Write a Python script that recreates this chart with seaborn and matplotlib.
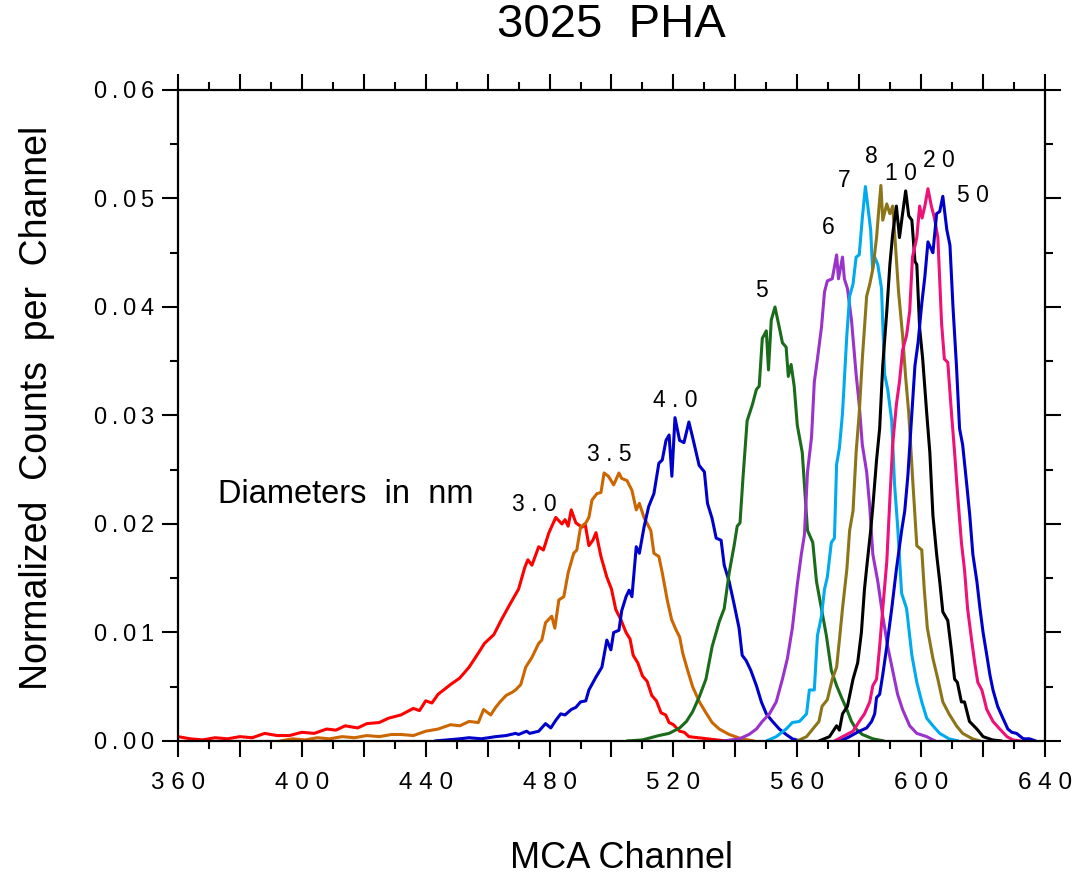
import matplotlib
matplotlib.use("Agg")
import matplotlib.pyplot as plt
from matplotlib.ticker import MultipleLocator, FuncFormatter
import pandas as pd
import seaborn as sns

# Pulse-height spectra for particle diameters (nm)
DIAMETERS = ["3.0", "3.5", "4.0", "5", "6", "7", "8", "10", "20", "50"]

ch_30 = [360, 364, 368, 372, 376, 380, 384, 388, 392, 396, 400, 404, 408, 411, 414, 418,
         421, 425, 428, 432, 436, 438, 440, 442, 444, 448, 451, 454, 457, 459, 462, 464.5,
         467, 470, 472, 473, 474.3, 476.5, 478, 479.8, 482, 484, 485, 486, 487, 488.5,
         490.5, 491.5, 492.7, 494, 495, 496.6, 498.5, 500, 501.4, 503, 504.7, 506, 507,
         508.5, 510, 511.5, 513, 514.5, 516, 517.5, 518.6, 520, 522, 523.5, 525, 528, 531,
         534, 537]
y_30 = [0.0004, 0.0002, 0.0001, 0.0003, 0.0002, 0.0004, 0.0003, 0.0007, 0.0005, 0.0005,
        0.0008, 0.0007, 0.0011, 0.0010, 0.0014, 0.0012, 0.0016, 0.0017, 0.0021, 0.0024,
        0.0030, 0.0028, 0.0037, 0.0035, 0.0043, 0.0052, 0.0058, 0.0068, 0.0081, 0.0090,
        0.0098, 0.0112, 0.0125, 0.0140, 0.0160, 0.0167, 0.0162, 0.0179, 0.0176, 0.0192,
        0.0206, 0.0200, 0.0204, 0.0198, 0.0213, 0.0201, 0.0197, 0.0200, 0.0180, 0.0185,
        0.0192, 0.0170, 0.0151, 0.0140, 0.0121, 0.0112, 0.0100, 0.0094, 0.0079, 0.0072,
        0.0060, 0.0055, 0.0042, 0.0037, 0.0026, 0.0024, 0.0017, 0.0015, 0.0009, 0.0008,
        0.0004, 0.0003, 0.0002, 0.0001, 0.0]

ch_35 = [393, 397, 401, 405, 409, 413, 417, 421, 425, 429, 432, 436, 440, 444, 448, 451,
         454, 457, 458.7, 461, 462.6, 464, 466, 468, 469, 470.7, 472.3, 474.3, 476.5, 477.5,
         478.7, 480.7, 481.7, 483, 484.6, 486, 487.8, 488.8, 490, 491.7, 492.7, 493.7,
         495.3, 496.6, 497.6, 499, 500.7, 502.4, 503.3, 505, 506.6, 508, 509, 510.5, 512.7,
         513.7, 515.3, 516.4, 518, 519.4, 520.9, 522, 523, 524.6, 526.2, 528.4, 530.5,
         532.5, 534.8, 538, 542, 546]
y_35 = [0.0, 0.0002, 0.0001, 0.0003, 0.0002, 0.0004, 0.0003, 0.0005, 0.0004, 0.0006,
        0.0006, 0.0005, 0.0009, 0.0011, 0.0015, 0.0014, 0.0018, 0.0017, 0.0029, 0.0024,
        0.0031, 0.0036, 0.0042, 0.0045, 0.0047, 0.0052, 0.0068, 0.0077, 0.0090, 0.0093,
        0.0109, 0.0115, 0.0104, 0.0130, 0.0133, 0.0155, 0.0173, 0.0176, 0.0197, 0.0201,
        0.0206, 0.0222, 0.0228, 0.0229, 0.0247, 0.0244, 0.0236, 0.0247, 0.0242, 0.0240,
        0.0231, 0.0213, 0.0219, 0.0206, 0.0194, 0.0173, 0.0170, 0.0155, 0.0130, 0.0112,
        0.0102, 0.0096, 0.0081, 0.0065, 0.0050, 0.0036, 0.0026, 0.0017, 0.0011, 0.0006,
        0.0002, 0.0]

ch_40 = [443, 447, 451, 454, 458, 462.6, 466, 469, 470, 472.6, 473.6, 476.5, 478.7, 480.4,
         482, 483.6, 485, 487, 488.5, 490, 491.7, 492.7, 495, 496.9, 498.5, 499.8, 500.7,
         502.4, 503.3, 504.7, 505.7, 506.6, 508, 509, 510.5, 512, 513.7, 515.3, 516.4,
         517.6, 518.6, 519.5, 520.5, 522, 523.4, 525, 526.6, 528.3, 530, 531, 532.5, 533.8,
         535.4, 536.4, 538, 539.6, 541.2, 542.2, 543.5, 545, 546.8, 548.4, 550, 552, 554.2,
         556.4, 558.4, 561]
y_40 = [0.0, 0.0001, 0.0002, 0.0003, 0.0002, 0.0004, 0.0005, 0.0007, 0.0006, 0.0009,
        0.0007, 0.0009, 0.0016, 0.0012, 0.0019, 0.0025, 0.0024, 0.0029, 0.0031, 0.0036,
        0.0037, 0.0047, 0.0059, 0.0068, 0.0093, 0.0084, 0.0100, 0.0102, 0.0120, 0.0133,
        0.0139, 0.0133, 0.0179, 0.0173, 0.0197, 0.0216, 0.0228, 0.0256, 0.0259, 0.0277,
        0.0282, 0.0244, 0.0298, 0.0277, 0.0275, 0.0294, 0.0275, 0.0254, 0.0248, 0.0219,
        0.0205, 0.0187, 0.0185, 0.0162, 0.0147, 0.0126, 0.0104, 0.0079, 0.0074, 0.0065,
        0.0051, 0.0036, 0.0025, 0.0018, 0.0011, 0.0006, 0.0002, 0.0]

ch_5 = [505, 510, 515.3, 518.6, 522, 524.2, 526.2, 528.4, 530.5, 532.5, 534.8, 536.4, 538,
        539.6, 540.6, 541.5, 542.5, 543.8, 545.5, 546.8, 547.7, 548.7, 550, 550.7, 551.6,
        552.8, 554.2, 555.2, 556.4, 557.1, 558, 559, 560, 561.6, 563.3, 565, 566.2, 567.8,
        569.4, 571, 572.7, 574.3, 576, 577.5, 579, 581, 584.4, 588]
y_5 = [0.0, 0.0001, 0.0005, 0.0007, 0.0012, 0.0018, 0.0027, 0.0041, 0.0057, 0.0087, 0.0110,
       0.0122, 0.0155, 0.0180, 0.0198, 0.0201, 0.0244, 0.0295, 0.0310, 0.0324, 0.0327,
       0.0371, 0.0378, 0.0342, 0.0388, 0.0400, 0.0381, 0.0367, 0.0363, 0.0336, 0.0347,
       0.0327, 0.0291, 0.0266, 0.0194, 0.0183, 0.0147, 0.0122, 0.0097, 0.0065, 0.0051,
       0.0040, 0.0029, 0.0018, 0.0011, 0.0006, 0.0002, 0.0]

ch_6 = [536, 541.3, 544.4, 546.8, 548.7, 551, 553.2, 555.2, 556.8, 558.4, 560, 561.3, 562.3,
        563.3, 564.6, 565.5, 566.5, 567.8, 568.8, 569.7, 571.3, 572.7, 573.3, 574.6, 575.2,
        576.2, 577.5, 579, 580, 581, 582.4, 583.4, 584.4, 586, 587.6, 589.2, 590.8, 592.4,
        594, 596.3, 598.6, 601.8, 604.5]
y_6 = [0.0, 0.0002, 0.0006, 0.0011, 0.0018, 0.0025, 0.0036, 0.0057, 0.0076, 0.0104, 0.0144,
       0.0172, 0.0190, 0.0248, 0.0280, 0.0331, 0.0352, 0.0381, 0.0414, 0.0424, 0.0426,
       0.0448, 0.0426, 0.0446, 0.0426, 0.0417, 0.0388, 0.0338, 0.0310, 0.0273, 0.0248,
       0.0216, 0.0172, 0.0147, 0.0115, 0.0087, 0.0065, 0.0043, 0.0029, 0.0014, 0.0007,
       0.0004, 0.0]

ch_7 = [550, 553.2, 556.4, 558.4, 560.7, 563, 563.9, 565.5, 566.5, 567.8, 568.8, 569.7, 571,
        572, 572.7, 573.6, 574.6, 576, 576.9, 578, 579, 580, 581, 582, 582.6, 583.7, 584.3,
        585, 586, 587.2, 588.2, 589.2, 590.5, 591.4, 592.4, 593.7, 595.3, 597, 598.6, 600.2,
        601.8, 603.8, 606, 609, 612]
y_7 = [0.0, 0.0004, 0.0011, 0.0017, 0.0018, 0.0025, 0.0047, 0.0047, 0.0097, 0.0115, 0.0140,
       0.0151, 0.0183, 0.0187, 0.0255, 0.0270, 0.0302, 0.0374, 0.0410, 0.0421, 0.0446,
       0.0448, 0.0482, 0.0511, 0.0497, 0.0471, 0.0435, 0.0446, 0.0439, 0.0417, 0.0338,
       0.0324, 0.0295, 0.0237, 0.0198, 0.0136, 0.0122, 0.0079, 0.0054, 0.0036, 0.0021,
       0.0014, 0.0007, 0.0002, 0.0]

ch_8 = [560, 563, 565, 567, 568, 569.7, 571.3, 572.7, 573.6, 574.6, 576, 576.9, 578, 579,
        580, 581, 582.4, 583.4, 584.4, 585.6, 586.3, 587, 587.6, 588.9, 589.9, 590.8, 591.7,
        592.7, 594, 595, 596, 597.2, 598.6, 600.2, 601, 602, 603.8, 605.4, 607, 609, 611.4,
        613.4, 616.6, 619]
y_8 = [0.0, 0.0004, 0.0011, 0.0018, 0.0032, 0.0038, 0.0057, 0.0068, 0.0093, 0.0122, 0.0158,
       0.0194, 0.0212, 0.0266, 0.0302, 0.0352, 0.0410, 0.0421, 0.0435, 0.0464, 0.0489,
       0.0512, 0.0480, 0.0495, 0.0486, 0.0493, 0.0457, 0.0414, 0.0374, 0.0335, 0.0302,
       0.0244, 0.0180, 0.0176, 0.0140, 0.0104, 0.0076, 0.0057, 0.0036, 0.0025, 0.0014,
       0.0007, 0.0002, 0.0]

ch_10 = [567, 570.4, 572.7, 573.6, 574.6, 576.2, 578, 579.5, 580.7, 581.7, 582.6, 583.7,
         584.4, 585.6, 586.6, 587.6, 588.9, 589.9, 590.8, 592, 593, 594, 595, 596, 597, 598,
         598.6, 599.5, 600.5, 601.8, 602.8, 603.8, 605, 606, 607, 608.6, 609.8, 610.8, 611.7,
         613, 614, 615.6, 618, 620, 623, 626]
y_10 = [0.0, 0.0004, 0.0014, 0.0010, 0.0025, 0.0032, 0.0057, 0.0072, 0.0100, 0.0140, 0.0165,
        0.0194, 0.0216, 0.0259, 0.0288, 0.0346, 0.0396, 0.0439, 0.0467, 0.0493, 0.0464,
        0.0486, 0.0507, 0.0484, 0.0480, 0.0442, 0.0439, 0.0381, 0.0352, 0.0302, 0.0266,
        0.0208, 0.0172, 0.0147, 0.0119, 0.0111, 0.0083, 0.0057, 0.0054, 0.0036, 0.0036,
        0.0018, 0.0011, 0.0004, 0.0001, 0.0]

ch_20 = [572, 576, 578, 580, 581.7, 583.4, 584.4, 585.6, 586.6, 587.6, 588.9, 589.9, 590.8,
         592, 593, 594, 595.3, 596.3, 597.2, 598.6, 599.5, 600.3, 601.2, 602.2, 603.3, 604.3,
         605.4, 606.6, 607.5, 608.6, 609.8, 610.8, 611.7, 613, 614, 615, 616.3, 617.3, 618.3,
         619.6, 621.2, 623.2, 625.4, 627.7, 629.6, 632]
y_20 = [0.0, 0.0006, 0.0009, 0.0018, 0.0025, 0.0036, 0.0051, 0.0057, 0.0087, 0.0122, 0.0165,
        0.0223, 0.0273, 0.0310, 0.0331, 0.0360, 0.0374, 0.0396, 0.0446, 0.0464, 0.0493,
        0.0482, 0.0493, 0.0509, 0.0493, 0.0482, 0.0464, 0.0385, 0.0352, 0.0349, 0.0302,
        0.0266, 0.0230, 0.0183, 0.0158, 0.0122, 0.0093, 0.0072, 0.0054, 0.0047, 0.0029,
        0.0018, 0.0011, 0.0004, 0.0001, 0.0]

ch_50 = [574, 576.9, 580, 582.4, 584, 585, 585.6, 586.6, 587.6, 588.9, 590.5, 592, 593.7,
         594.7, 595.7, 597, 598, 599, 600.2, 601.2, 602.2, 603.3, 603.8, 605, 606, 607, 608.3,
         609.3, 610.3, 611.4, 612.4, 613.4, 614.7, 615.7, 616.7, 618, 619, 620, 621.2, 622.2,
         623.2, 624.7, 626.4, 628, 629.3, 630.8, 633, 635, 637]
y_50 = [0.0, 0.0004, 0.0009, 0.0012, 0.0018, 0.0025, 0.0040, 0.0043, 0.0061, 0.0087, 0.0122,
        0.0158, 0.0194, 0.0212, 0.0244, 0.0302, 0.0346, 0.0367, 0.0403, 0.0428, 0.0460,
        0.0453, 0.0450, 0.0486, 0.0488, 0.0502, 0.0471, 0.0457, 0.0399, 0.0346, 0.0288,
        0.0273, 0.0237, 0.0208, 0.0172, 0.0147, 0.0122, 0.0100, 0.0079, 0.0061, 0.0047,
        0.0032, 0.0021, 0.0011, 0.0008, 0.0007, 0.0002, 0.0002, 0.0]

CHANNELS = [ch_30, ch_35, ch_40, ch_5, ch_6, ch_7, ch_8, ch_10, ch_20, ch_50]
COUNTS = [y_30, y_35, y_40, y_5, y_6, y_7, y_8, y_10, y_20, y_50]

COLORS = ["#ff0000", "#cc6600", "#0000cc", "#1a6b1a", "#9933cc",
          "#00aaee", "#8c7418", "#000000", "#ee1177", "#0000cc"]

# curve labels as printed on the chart, with their anchor points
PEAK_LABELS = ["3 . 0", "3 . 5", "4 . 0", "5", "6", "7", "8", "1 0", "2 0", "5 0"]
LABEL_X = [475, 499.2, 520.6, 548.4, 570.1, 575.3, 583.8, 593.4, 605.6, 616.7]
LABEL_Y = [0.0218, 0.0264, 0.0314, 0.0415, 0.0473, 0.0517, 0.0539, 0.0523, 0.0535, 0.0503]


def build_frame():
    frames = []
    for d, ch, y in zip(DIAMETERS, CHANNELS, COUNTS):
        frames.append(pd.DataFrame({"channel": ch, "counts": y, "diameter": d}))
    return pd.concat(frames, ignore_index=True)


def spaced(s, sep=" "):
    return sep.join(s)


def main():
    sns.set_style("ticks")
    plt.rcParams["font.family"] = ["Liberation Sans", "DejaVu Sans"]
    plt.rcParams["text.color"] = "black"
    plt.rcParams["axes.labelcolor"] = "black"

    df = build_frame()

    fig = plt.figure(figsize=(10.76, 8.77), dpi=100)
    ax = fig.add_axes([0.1654, 0.1551, 0.9712 - 0.1654, 0.8974 - 0.1551])

    sns.lineplot(data=df, x="channel", y="counts", hue="diameter", hue_order=DIAMETERS,
                 palette=dict(zip(DIAMETERS, COLORS)), estimator=None, sort=False,
                 linewidth=2.2, legend=False, ax=ax)

    ax.set_xlim(360, 640)
    ax.set_ylim(0, 0.06)

    ax.xaxis.set_major_locator(MultipleLocator(20))
    ax.xaxis.set_minor_locator(MultipleLocator(10))
    ax.yaxis.set_major_locator(MultipleLocator(0.01))
    ax.yaxis.set_minor_locator(MultipleLocator(0.005))
    ax.xaxis.set_major_formatter(FuncFormatter(
        lambda v, p: spaced(str(int(round(v)))) if round(v) % 40 == 0 else ""))
    ax.yaxis.set_major_formatter(FuncFormatter(lambda v, p: spaced(f"{v:.2f}", "\u2009")))

    ax.tick_params(which="both", direction="out", top=True, right=True,
                   width=1.5, color="black", labelcolor="black")
    ax.tick_params(which="major", length=11.5)
    ax.tick_params(which="minor", length=5.8)
    ax.tick_params(axis="x", pad=11, labelsize=17.5)
    ax.tick_params(axis="y", pad=5.7, labelsize=17)
    for side in ["left", "right", "top", "bottom"]:
        ax.spines[side].set_visible(True)
        ax.spines[side].set_linewidth(1.6)
        ax.spines[side].set_color("black")

    ax.set_xlabel("MCA Channel", fontsize=26)
    ax.xaxis.set_label_coords(0.512, -0.18)
    ax.xaxis.label.set_va("center")
    ax.set_ylabel("Normalized  Counts  per  Channel", fontsize=27)
    ax.yaxis.set_label_coords(-0.163, 0.512)
    ax.yaxis.label.set_va("center")

    ax.set_title("3025  PHA", fontsize=34, y=1.0876, va="center")

    ax.text(372.9, 0.0227, "Diameters  in  nm", fontsize=23.5, ha="left", va="center")
    for lab, lx, ly in zip(PEAK_LABELS, LABEL_X, LABEL_Y):
        ax.text(lx, ly, lab, fontsize=16.5, ha="center", va="center")

    fig.savefig("out.png", dpi=100)
    plt.close(fig)


if __name__ == "__main__":
    main()
